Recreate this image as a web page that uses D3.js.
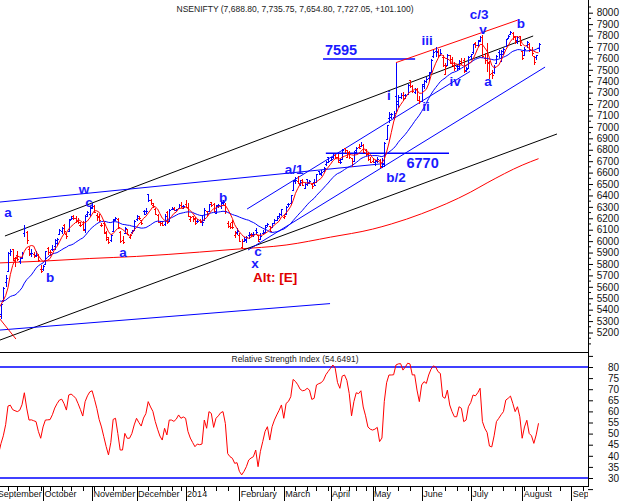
<!DOCTYPE html>
<html>
<head>
<meta charset="utf-8">
<script src="https://cdn.jsdelivr.net/npm/d3@7"></script>
<style>
body{margin:0;background:#fff;}
text{font-family:"Liberation Sans",Arial,sans-serif;}
</style>
</head>
<body>
<div id="chart"></div>
<script>
//trading calendar: weekdays from 2 Sep 2013, minus exchange holidays
var holidays = ["2013-09-09","2013-10-02","2013-10-16","2013-11-04","2013-11-15","2013-12-25",
    "2014-02-27","2014-03-17","2014-04-08","2014-04-14","2014-04-18","2014-04-24","2014-05-01","2014-07-29"];
var monthNames = ["January","February","March","April","May","June","July","August","September","October","November","December"];

//closes of the last sessions of Aug 2013 (only used to seed the averages)
var warmCloses = [5677.9,5685.4,5542.25,5519.1,5565.65,5612.4,5699.3,5742.3,5507.85,5414.75,5401.45,5302.55,5408.45,5471.75,5476.5,5287.45,5285,5409.05,5471.8];

//daily bars, one line per month (Sep 2013 .. Aug 2014)
var opens = [
 5480,5550,5360,5481,5641,5738,5900,5927,5838,5875,5830,5860,6075,6080,5930,5900,5885,5880,5880,5760,
 5757,5800,5937,5880,5930,5955,5980,6060,6092,6138,6061,6091,6197,6220,6204,6180,6140,6154,6110,6240,6240,
 6290,6310,6232,6220,6140,6155,6067,6032,6012,6090,6190,6195,6078,6012,6070,6102,6033,6080,6101,
 6196,6206,6183,6261,6260,6415,6363,6320,6280,6230,6170,6175,6150,6253,6180,6285,6290,6275,6290,6320,6307,
 6323,6302,6195,6220,6204,6178,6181,6178,6189,6261,6265,6341,6325,6250,6320,6309,6335,6320,6163,6130,6170,6057,6082,
 6058,5948,6004,6008,6058,6058,6064,6095,6053,6022,6068,6077,6140,6129,6128,6163,6187,6220,6240,
 6210,6238,6324,6335,6447,6537,6530,6496,6534,6467,6540,6511,6499,6518,6514,6611,6598,6611,6678,6733,
 6710,6739,6756,6740,6708,6720,6812,6739,6778,6731,6705,6797,6828,6829,6845,6794,6771,6717,
 6700,6695,6707,6712,6660,6672,6890,7078,7090,7090,7270,7230,7265,7280,7277,7285,7413,7357,7310,7330,7240,
 7230,7380,7405,7426,7480,7617,7669,7666,7630,7615,7460,7540,7626,7591,7530,7530,7530,7577,7590,7502,7515,
 7620,7660,7731,7720,7760,7790,7600,7590,7556,7475,7478,7560,7660,7580,7640,7710,7779,7811,7818,7792,7757,7794,
 7665,7629,7715,7724,7670,7620,7610,7688.8];
var highs = [
 5565,5567,5460,5600,5700,5908,5932,5930,5862,5915,5865,5905,6142,6090,5948,5928,5908,5910,5885,5790,
 5793,5917,5950,5925,5965,6015,6030,6110,6125,6148,6075,6197,6218,6226,6216,6200,6165,6178,6228,6265,6310,
 6332,6312,6250,6240,6160,6165,6090,6040,6064,6196,6212,6206,6090,6044,6125,6110,6066,6100,6182,
 6228,6224,6185,6273,6290,6415,6365,6330,6292,6235,6180,6180,6235,6260,6284,6295,6300,6285,6324,6345,6316,
 6358,6330,6221,6224,6213,6192,6195,6218,6288,6265,6325,6346,6330,6315,6327,6349,6356,6330,6180,6163,6184,6087,6114,
 6074,6017,6038,6047,6080,6071,6084,6111,6056,6068,6095,6137,6160,6134,6163,6190,6216,6243,6282,
 6228,6305,6335,6407,6537,6562,6574,6534,6546,6511,6547,6539,6507,6540,6591,6615,6627,6653,6702,6735,
 6733,6765,6759,6760,6718,6805,6819,6800,6786,6731,6788,6824,6848,6870,6847,6805,6781,6735,
 6730,6710,6738,6718,6732,6869,7020,7130,7120,7140,7563,7276,7298,7310,7290,7373,7414,7368,7344,7337,7275,
 7373,7412,7440,7484,7593,7671,7700,7681,7679,7630,7560,7640,7627,7615,7568,7553,7590,7600,7600,7523,7618,
 7640,7730,7746,7760,7800,7809,7646,7731,7573,7497,7540,7632,7677,7671,7695,7771,7809,7841,7830,7799,7800,7800,
 7668,7697,7752,7732,7699,7623,7634,7735.75];
var lows = [
 5455,5318,5320,5470,5600,5738,5870,5823,5776,5825,5800,5840,6040,5978,5873,5860,5850,5862,5818,5718,
 5740,5795,5880,5870,5910,5920,5970,6050,6060,6070,6020,6084,6185,6186,6160,6150,6125,6090,6075,6208,6210,
 6280,6245,6180,6170,6125,6060,6002,5972,5990,6086,6175,6110,5985,5972,6060,6050,6020,6060,6090,
 6175,6183,6140,6225,6240,6345,6313,6290,6230,6155,6130,6130,6130,6146,6165,6270,6260,6260,6285,6286,6283,
 6294,6213,6170,6170,6144,6160,6160,6134,6189,6218,6265,6300,6246,6240,6287,6284,6313,6241,6119,6107,6106,6027,6052,
 5995,5933,5994,5987,6021,6038,6040,6058,5991,6010,6065,6070,6120,6081,6126,6160,6174,6205,6222,
 6195,6233,6297,6326,6445,6501,6500,6480,6483,6460,6485,6502,6457,6485,6514,6576,6571,6606,6656,6687,
 6700,6723,6718,6687,6674,6720,6774,6737,6720,6650,6705,6768,6805,6820,6773,6748,6704,6684,
 6680,6656,6687,6638,6639,6650,6890,7035,7072,7063,7130,7168,7245,7227,7246,7278,7342,7293,7291,7228,7200,
 7228,7330,7383,7400,7474,7602,7609,7600,7617,7525,7456,7535,7550,7530,7490,7491,7500,7545,7472,7479,7506,
 7590,7642,7694,7700,7744,7604,7553,7480,7422,7422,7460,7554,7600,7573,7634,7703,7767,7803,7760,7730,7726,7712,
 7588,7618,7694,7659,7618,7541,7590,7654.8];
var closes = [
 5550.75,5341.45,5448.1,5592.95,5680.4,5896.75,5913.15,5850.7,5850.6,5840.55,5850.2,5899.45,6115.55,6012.1,5889.75,5892.45,5873.85,5882.25,5833.2,5735.3,
 5780.05,5909.7,5907.3,5906.15,5928.4,6007.45,6020.95,6096.2,6112.7,6089.05,6045.85,6189.35,6204.95,6202.8,6178.35,6164.35,6144.9,6101.1,6220.9,6251.7,6299.15,
 6307.2,6253.15,6215.15,6187.25,6140.75,6078.8,6018.05,5989.6,6056.15,6189,6203.35,6122.9,5999.05,5995.45,6115.35,6059.1,6057.1,6091.85,6176.1,
 6217.85,6201.85,6160.95,6241.1,6259.9,6363.9,6332.85,6307.9,6237.05,6168.4,6154.7,6139.05,6217.15,6166.65,6274.25,6284.5,6268.4,6278.9,6313.8,6291.1,6304,
 6301.65,6221.15,6211.15,6191.45,6162.25,6174.6,6168.35,6171.45,6272.75,6241.85,6320.9,6318.9,6261.65,6303.95,6313.8,6338.95,6345.65,6266.75,6135.85,6126.25,6120.25,6073.7,6089.5,
 6001.8,6000.9,6022.4,6036.3,6063.2,6053.45,6062.7,6084,6001.1,6048.35,6073.3,6127.1,6152.75,6091.45,6155.45,6186.1,6200.05,6238.8,6276.95,
 6221.45,6297.95,6328.65,6401.15,6526.65,6537.25,6511.9,6516.9,6493.1,6504.2,6516.65,6524.05,6483.1,6493.25,6583.5,6589.75,6601.4,6641.75,6695.9,6704.2,
 6721.05,6752.55,6736.1,6694.35,6695.05,6796.4,6796.2,6776.3,6733.1,6675.3,6779.4,6817.65,6815.35,6840.8,6782.75,6761.25,6715.25,6696.4,
 6694.8,6699.35,6715.3,6652.55,6659.85,6858.8,7014.25,7108.75,7108.75,7123.15,7203,7263.55,7275.5,7252.9,7276.4,7367.1,7359.05,7318,7329.65,7235.65,7229.95,
 7362.5,7402.25,7415.85,7474.1,7583.4,7654.6,7656.4,7626.85,7649.9,7542.1,7533.55,7631.7,7558.2,7540.7,7511.45,7512,7580.2,7569.25,7493.2,7508.8,7611.35,
 7634.7,7725.15,7714.75,7751.6,7787.15,7623.2,7585,7567.75,7459.6,7454.15,7526.65,7624.4,7640.45,7663.9,7684.2,7767.85,7795.75,7830.6,7790.45,7748.7,7791.4,7721.3,
 7602.6,7683.65,7746.55,7672.05,7649.25,7568.55,7625.95,7727.05];

//RSI(14)
var rsi = [
 50,41,45.5,49,54,62.4,62.8,60.8,60.3,59.9,60.5,63,68.4,61.5,56.1,56.2,55.8,55.4,51,47.9,
 53,56.1,56.2,56.3,58.5,61.5,63.5,65.1,65.5,63.5,60.6,67.4,67.8,67,65.9,63.5,60.8,57.9,64.4,67,68.8,
 69.3,65.5,61.4,56.4,53,48.6,44.2,40.4,46,56.4,56.9,50,42.6,42.6,50.1,47.9,47.9,50,53.9,
 56.9,55,53.4,57,59,64.4,62,60,55.5,52,48.9,47.1,52.4,49.4,56.1,56.1,55.5,56.5,58.4,56.9,57.5,
 56.9,51,48,46,44.1,45.3,45,45.3,56.1,52.4,59.9,59.1,52.8,56.9,58,59.4,59.9,54.6,41,39.6,38.9,36.6,36.9,
 33,31.4,33,35.1,38.1,39,39.6,42.6,35.1,42,46.4,51,53.1,47.1,53.1,56.1,58.4,60.5,62.9,
 56.9,63.6,64.5,66.6,74.4,73.5,72,70,69.3,69.5,70.4,69.6,65.4,65.9,71.9,72.5,72.9,74.1,76.5,78,
 79.4,80.9,79.5,73,70.4,75.9,76.4,74,68.1,58,64.4,68.4,68,69.3,62,58,53,52,
 51.6,52,52.8,46.4,48,64.4,72.9,76.4,76.4,76.5,80.9,81.4,81.5,78.6,80,81.7,81.4,76.4,76.5,69.6,64.4,
 71.9,73.4,72.6,76.4,79,80.5,80,77.9,77.1,66.6,65.9,69.6,62.9,59.9,57.6,57.6,62.1,61.4,55.4,56.1,62.1,
 64,67.4,67,68.4,70.4,55.4,52.4,50.5,44.4,44,49,55.4,56.9,58.5,59.9,65.1,65.9,66.9,63.6,59.9,62.1,57.6,
 47.9,53,56,50.1,49,45.6,49.4,54.65];

//200 day average read at a few sessions (session index, value)
var ma200Day = [0,20,40,60,87,103,124,143,161,169,182,203,210,225,232];
var ma200Val = [5808,5825,5848,5866,5904,5930,5966,6035,6105,6150,6240,6430,6510,6665,6722];

//analyst lines: [session from, price from, session to, price to]
var trendLines = {
    upperBlack: [3.7, 6045, 229.7, 7796],
    lowerBlack: [0, 5122, 239.9, 6938],
    wLine:      [0, 6339, 166.3, 6680],
    baseBlue:   [0, 5219, 142.8, 5453],
    chanLow:    [107.7, 5922, 234.8, 7524],
    chanUp:     [107.3, 6281, 202.7, 7486],
    lvl7595:    [139.8, 7595, 179.2, 7595],
    lvl6770:    [141, 6770, 193.7, 6770],
    redTop:     [171, 7563, 223.2, 7936],
    redStub:    [0, 5358, 8.4, 5143]
};
var lineColor = {upperBlack:"#000", lowerBlack:"#000", wLine:"#0000ff", baseBlue:"#0000ff", chanLow:"#0000ff",
    chanUp:"#0000ff", lvl7595:"#0000ff", lvl6770:"#0000ff", redTop:"#ff0000", redStub:"#ff0000"};

//wave counts: text, session, price of the baseline
var waveText  = ["a","w","c","b","a","b","c","x","a/1","b/2","i","ii","iii","iv","c/3","v","a","b"];
var waveDay   = [5.0,37.5,39.7,23.0,54.2,97.0,112.0,110.7,127.4,171.0,168.0,183.9,184.3,196.3,206.6,208.3,210.4,224.5];
var wavePrice = [6207,6417,6299,5642,5861,6342,5874,5762,6592,6521,7240,7135,7713,7354,7944,7815,7354,7870];
var levelText = ["7595","6770"];
var levelDay = [147.5,182.4];
var levelPrice = [7634,6640];

var W = 625, H = 501, axisX = 588;

var svg = d3.select("#chart").append("svg")
    .attr("width", W).attr("height", H);

//sessions -> dates
var fmt = d3.utcFormat("%Y-%m-%d");
var sessions = d3.utcDay.range(new Date(Date.UTC(2013,8,2)), new Date(Date.UTC(2014,8,20)))
    .filter(function(d){ return d.getUTCDay() % 6 !== 0 && holidays.indexOf(fmt(d)) < 0; });

var x = d3.scaleLinear().domain([0, 253]).range([-3.7, 587.6]);
var y = d3.scaleLinear().domain([5200, 8000]).range([332.5, 12.7]);
var yr = d3.scaleLinear().domain([30, 80]).range([478, 367]);

var defs = svg.append("defs");
defs.append("clipPath").attr("id","clipMain").append("rect").attr("x",0).attr("y",0).attr("width",axisX).attr("height",351);
defs.append("clipPath").attr("id","clipRsi").append("rect").attr("x",0).attr("y",353).attr("width",axisX).attr("height",132);
defs.append("clipPath").attr("id","clipDates").append("rect").attr("x",0).attr("y",486).attr("width",axisX).attr("height",15);

var main = svg.append("g").attr("clip-path","url(#clipMain)");

//title
svg.append("text").attr("x", 295).attr("y", 12).attr("text-anchor","middle")
    .attr("font-size", 8.5).attr("fill","#222")
    .attr("textLength", 237).attr("lengthAdjust","spacingAndGlyphs")
    .text("NSENIFTY (7,688.80, 7,735.75, 7,654.80, 7,727.05, +101.100)");

//moving averages
var allCloses = warmCloses.concat(closes);
function sma(n){
    return closes.map(function(c, i){
        var end = i + warmCloses.length + 1;
        return d3.mean(allCloses.slice(end - n, end));
    });
}
var ma5 = sma(5), ma20 = sma(20);

main.append("path")
    .datum(ma200Day.map(function(d, i){ return [d, ma200Val[i]]; }))
    .attr("fill","none").attr("stroke","#ff0000").attr("stroke-width",1)
    .attr("d", d3.line().x(function(d){ return x(d[0]); }).y(function(d){ return y(d[1]); }).curve(d3.curveMonotoneX));

//trend lines
Object.keys(trendLines).forEach(function(k){
    var t = trendLines[k];
    main.append("line")
        .attr("x1", x(t[0])).attr("y1", y(t[1]))
        .attr("x2", x(t[2])).attr("y2", y(t[3]))
        .attr("stroke", lineColor[k])
        .attr("stroke-width", (k == "lvl7595" || k == "lvl6770") ? 1.4 : 1);
});

//ohlc bars
var idx = d3.range(closes.length);
function barColor(i){
    var prev = i == 0 ? warmCloses[warmCloses.length - 1] : closes[i - 1];
    return closes[i] >= prev ? "#0000ff" : "#ff0000";
}
var bars = main.append("g").attr("shape-rendering","crispEdges");
bars.selectAll("path")
    .data(idx)
    .enter()
    .append("path")
    .attr("fill","none")
    .attr("stroke", barColor)
    .attr("d", function(i){
        var px = Math.round(x(i)) + 0.5;
        var yo = Math.round(y(opens[i])) + 0.5, yc = Math.round(y(closes[i])) + 0.5;
        return "M" + px + "," + y(highs[i]) + "V" + y(lows[i]) +
            "M" + (px - 1.5) + "," + yo + "H" + px +
            "M" + px + "," + yc + "H" + (px + 1.5);
    });

var maLine = d3.line().x(function(d, i){ return x(i); }).y(function(d){ return y(d); });
main.append("path").datum(ma20).attr("fill","none").attr("stroke","#0000ff").attr("stroke-width",1).attr("d", maLine);
main.append("path").datum(ma5).attr("fill","none").attr("stroke","#ff0000").attr("stroke-width",1).attr("d", maLine);

//wave labels
main.selectAll(".wave")
    .data(waveText)
    .enter()
    .append("text")
    .attr("class","wave")
    .attr("x", function(d, i){ return x(waveDay[i]); })
    .attr("y", function(d, i){ return y(wavePrice[i]); })
    .attr("text-anchor","middle")
    .attr("font-size", 13.5).attr("font-weight","bold")
    .attr("fill","#1a1aff")
    .text(function(d){ return d; });

main.selectAll(".level")
    .data(levelText)
    .enter()
    .append("text")
    .attr("class","level")
    .attr("x", function(d, i){ return x(levelDay[i]); })
    .attr("y", function(d, i){ return y(levelPrice[i]); })
    .attr("text-anchor","middle")
    .attr("font-size", 14.5).attr("font-weight","bold")
    .attr("fill","#1a1aff")
    .text(function(d){ return d; });

main.append("text")
    .attr("x", x(119.3)).attr("y", y(5646))
    .attr("text-anchor","middle")
    .attr("font-size", 13.5).attr("font-weight","bold")
    .attr("fill","#e00000")
    .text("Alt: [E]");

//price axis on the right
var yAxis = svg.append("g").attr("transform","translate(" + axisX + ",0)");
yAxis.call(d3.axisRight(y).tickValues(d3.range(5200, 8001, 100)).tickSize(5).tickPadding(3).tickFormat(d3.format("d")))
    .call(function(g){ g.select(".domain").remove(); });
yAxis.selectAll("text").attr("x", 31).attr("text-anchor","end").attr("font-size", 10)
    .attr("font-family","Liberation Sans, Arial, sans-serif").attr("fill","#111");
yAxis.selectAll(".minor")
    .data(d3.range(5100, 8101, 100).map(function(v){ return v + 50; }).concat([5100]).filter(function(v){ return y(v) > 0 && y(v) < 350; }))
    .enter().append("line").attr("class","minor")
    .attr("x1",0).attr("x2",3).attr("y1", function(v){ return y(v); }).attr("y2", function(v){ return y(v); })
    .attr("stroke","#000");

//rsi panel
svg.append("line").attr("x1",0).attr("x2",axisX).attr("y1",352.5).attr("y2",352.5).attr("stroke","#000");
svg.append("text").attr("x", 295).attr("y", 362).attr("text-anchor","middle")
    .attr("font-size", 9).attr("fill","#222")
    .attr("textLength", 127).attr("lengthAdjust","spacingAndGlyphs")
    .text("Relative Strength Index (54.6491)");

var rsiG = svg.append("g").attr("clip-path","url(#clipRsi)");
[80, 30].forEach(function(v){
    rsiG.append("line").attr("x1",0).attr("x2",axisX).attr("y1",yr(v)).attr("y2",yr(v))
        .attr("stroke","#0000ff").attr("stroke-width",1.5);
});
rsiG.append("path").datum(rsi).attr("fill","none").attr("stroke","#ff0000").attr("stroke-width",1)
    .attr("d", d3.line().x(function(d, i){ return x(i); }).y(function(d){ return yr(d); }));

var rAxis = svg.append("g").attr("transform","translate(" + axisX + ",0)");
rAxis.call(d3.axisRight(yr).tickValues(d3.range(25, 86, 5)).tickSize(5).tickPadding(3)
        .tickFormat(function(v){ return (v >= 30 && v <= 80) ? v : ""; }))
    .call(function(g){ g.select(".domain").remove(); });
rAxis.selectAll("text").attr("x", 31).attr("text-anchor","end").attr("font-size", 10)
    .attr("font-family","Liberation Sans, Arial, sans-serif").attr("fill","#111");

//axis line along the right edge
svg.append("line").attr("x1",axisX + 0.5).attr("x2",axisX + 0.5).attr("y1",0).attr("y2",487).attr("stroke","#000");

//date axis
svg.append("line").attr("x1",0).attr("x2",axisX + 1).attr("y1",486.5).attr("y2",486.5).attr("stroke","#000");
var monthStarts = [], weekStarts = [];
sessions.forEach(function(d, i){
    if (i == 0 || d.getUTCMonth() != sessions[i - 1].getUTCMonth()) monthStarts.push(i);
    else if (+d3.utcMonday.floor(d) != +d3.utcMonday.floor(sessions[i - 1])) weekStarts.push(i);
});
var dates = svg.append("g").attr("clip-path","url(#clipDates)").attr("shape-rendering","crispEdges");
dates.selectAll(".wk").data(weekStarts).enter().append("line")
    .attr("x1", function(i){ return Math.round(x(i)) + 0.5; }).attr("x2", function(i){ return Math.round(x(i)) + 0.5; })
    .attr("y1", 486).attr("y2", 491).attr("stroke","#000");
dates.selectAll(".mo").data(monthStarts).enter().append("line")
    .attr("x1", function(i){ return Math.round(x(i)) + 0.5; }).attr("x2", function(i){ return Math.round(x(i)) + 0.5; })
    .attr("y1", 486).attr("y2", 501).attr("stroke","#000");
dates.selectAll("text").data(monthStarts).enter().append("text")
    .attr("x", function(i){ return x(i) + 1.5; })
    .attr("y", 497)
    .attr("font-size", 9).attr("fill","#111")
    .text(function(i){
        var d = sessions[i];
        return d.getUTCMonth() == 0 ? d.getUTCFullYear() : monthNames[d.getUTCMonth()];
    });
</script>
</body>
</html>
